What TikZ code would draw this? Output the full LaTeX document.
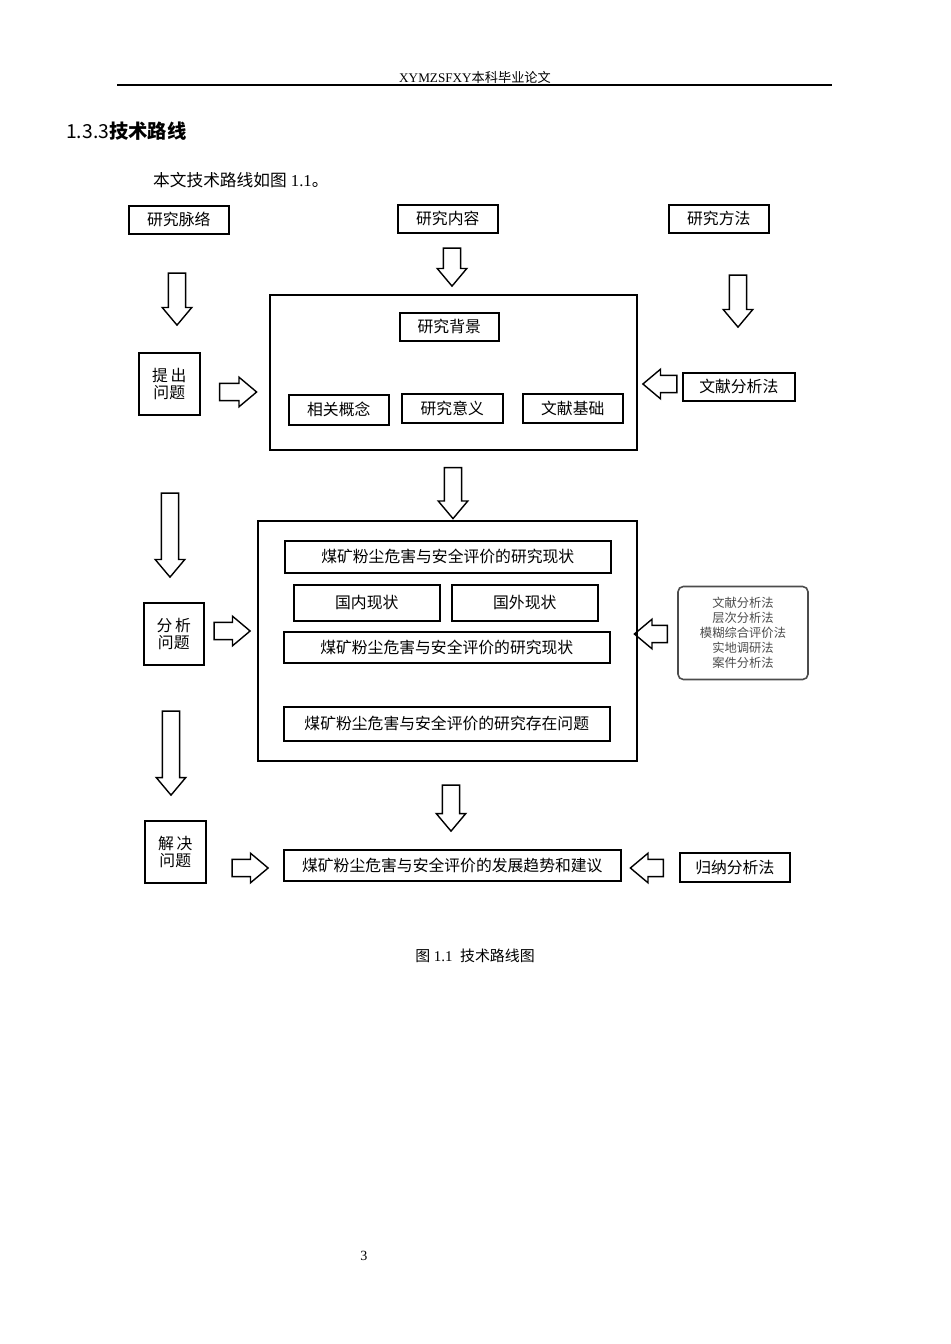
\documentclass[tikz,border=0pt]{standalone}
\usepackage{fontspec}
\setmainfont{Liberation Serif}
\newfontfamily\cjk{Noto Sans CJK SC}
\usetikzlibrary{shapes.arrows}

\tikzset{
  box/.style = {draw, line width=0.9pt, inner sep=0pt, font=\cjk\fontsize{9}{10}\selectfont},
  harr/.style = {single arrow, draw, line width=0.8pt, inner sep=4.5pt, text width=0pt,
                 single arrow head extend=3.5pt, single arrow tip angle=80},
}
\newcommand\mkbox[5]{\node[box, minimum width=(#4-#2)*0.02cm, minimum height=(#5-#3)*0.02cm,
  anchor=north west] (#1) at (#2,#3) {};}
\newcommand\harrow[5]{\node[harr, minimum height=#4*0.02cm, rotate=#5] (#1) at (#2,#3) {};}

\begin{document}
\begin{tikzpicture}[x=0.02cm, y=-0.02cm]
\useasboundingbox (0,0) rectangle (950,1344);
% page head
\node (head) at (475,77) {\fontsize{7.5}{9}\selectfont XYMZSFXY{\cjk 本科毕业论文}};
\draw[line width=0.6pt] (117,85) -- (832,85);
\node[anchor=west] (sec) at (60,131) {\fontsize{11}{13}\selectfont\cjk 1.3.3\textbf{技术路线}};
\node[anchor=west] (intro) at (147,180) {\fontsize{9.5}{11}\selectfont{\cjk 本文技术路线如图} 1.1{\cjk 。}};

% top row
\mkbox{mailuo}{128}{205}{228}{233}
\node[box, draw=none] at (mailuo) {研究脉络};
\mkbox{neirong}{397}{204}{497}{232}
\node[box, draw=none] at (neirong) {研究内容};
\mkbox{fangfa}{668}{204}{768}{232}
\node[box, draw=none] at (fangfa) {研究方法};
\harrow{a1}{177}{294}{52}{-90}
\harrow{a2}{452}{262}{38}{-90}
\harrow{a3}{738}{296}{52}{-90}

% block 1
\mkbox{blk1}{269}{294}{636}{449}
\mkbox{beijing}{399}{312}{498}{340}
\node[box, draw=none] at (beijing) {研究背景};
\mkbox{gainian}{288}{394}{388}{424}
\node[box, draw=none] at (gainian) {相关概念};
\mkbox{yiyi}{401}{393}{502}{422}
\node[box, draw=none] at (yiyi) {研究意义};
\mkbox{jichu}{522}{393}{622}{422}
\node[box, draw=none] at (jichu) {文献基础};
\mkbox{tichu}{138}{352}{199}{414}
\node[box, draw=none, align=center] at (tichu) {提\,出\\问题};
\harrow{a4}{233}{392}{37}{0}
\harrow{a5}{665}{384}{34}{180}
\mkbox{wenxian}{682}{372}{794}{400}
\node[box, draw=none] at (wenxian) {文献分析法};

% block 2
\harrow{a6}{453}{488}{51}{-90}
\harrow{a7}{170}{530}{84}{-90}
\mkbox{blk2}{257}{520}{636}{760}
\mkbox{xz1}{284}{540}{610}{572}
\node[box, draw=none] at (xz1) {煤矿粉尘危害与安全评价的研究现状};
\mkbox{guonei}{293}{584}{439}{620}
\node[box, draw=none] at (guonei) {国内现状};
\mkbox{guowai}{451}{584}{597}{620}
\node[box, draw=none] at (guowai) {国外现状};
\mkbox{xz2}{283}{631}{609}{662}
\node[box, draw=none] at (xz2) {煤矿粉尘危害与安全评价的研究现状};
\mkbox{wenti}{283}{706}{609}{740}
\node[box, draw=none] at (wenti) {煤矿粉尘危害与安全评价的研究存在问题};
\mkbox{fenxi}{143}{602}{203}{664}
\node[box, draw=none, align=center] at (fenxi) {分\,析\\问题};
\harrow{a8}{227}{631}{36}{0}
\harrow{a9}{656}{634}{33}{180}
\node[draw=black!70, line width=0.9pt, rounded corners=3pt, minimum width=130*0.02cm,
  minimum height=93*0.02cm, align=center, text=black!70,
  font=\cjk\fontsize{7}{8.5}\selectfont] (ff) at (743,633)
  {文献分析法\\层次分析法\\模糊综合评价法\\实地调研法\\案件分析法};

% block 3
\harrow{a10}{171}{748}{84}{-90}
\harrow{a11}{451}{803}{46}{-90}
\mkbox{jiejue}{144}{820}{205}{882}
\node[box, draw=none, align=center] at (jiejue) {解\,决\\问题};
\harrow{a12}{245}{868}{36}{0}
\mkbox{jianyi}{283}{849}{620}{880}
\node[box, draw=none] at (jianyi) {煤矿粉尘危害与安全评价的发展趋势和建议};
\harrow{a13}{652}{868}{33}{180}
\mkbox{guina}{679}{852}{789}{881}
\node[box, draw=none] at (guina) {归纳分析法};

% caption, page number
\node (cap) at (475,956) {\fontsize{8.5}{10}\selectfont{\cjk 图} 1.1\ \ {\cjk 技术路线图}};
\node (pg) at (364,1256) {\fontsize{8}{10}\selectfont 3};
\end{tikzpicture}
\end{document}
